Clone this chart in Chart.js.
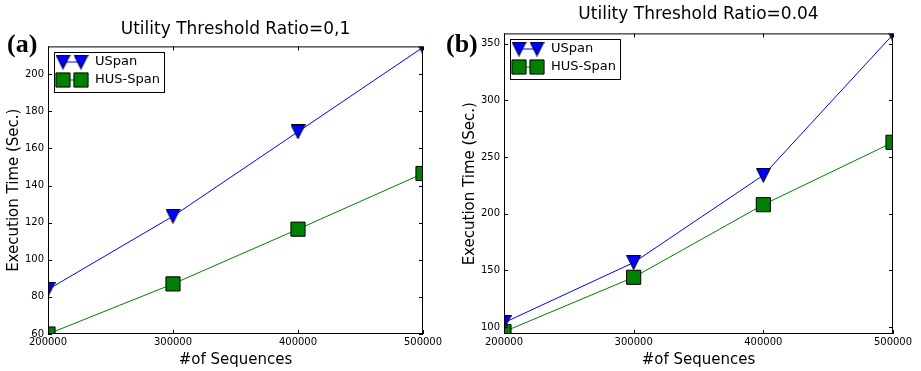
<!DOCTYPE html>
<html>
<head>
<meta charset="utf-8">
<script src="https://cdn.jsdelivr.net/npm/chart.js@4.4.1/dist/chart.umd.min.js"></script>
<style>
  body { margin: 0; background: #fff; }
  #wrap { position: relative; width: 921px; height: 371px; }
  canvas { position: absolute; top: 0; }
  #chartA { left: 0; }
  #chartB { left: 445px; }
</style>
</head>
<body>
<div id="wrap">
  <canvas id="chartA" width="445" height="371"></canvas>
  <canvas id="chartB" width="476" height="371"></canvas>
</div>
<script>
/* ======= Data ======= */
const sequences = [200000, 300000, 400000, 500000];

// (a) Utility Threshold Ratio=0,1
const uspanA = [84, 123.5, 169, 214.5];
const husSpanA = [60, 87, 116.5, 146.5];
const yLimitsA = [60, 215];
const yStepA = 20;

// (b) Utility Threshold Ratio=0.04
const uspanB = [104, 157, 234, 358];
const husSpanB = [96, 144, 208, 263];
const yLimitsB = [94, 359];
const yStepB = 50;

const xStep = 100000;

const FONT = '"DejaVu Sans", sans-serif';

function points(values) {
  return sequences.map((x, i) => ({ x, y: values[i] }));
}

/* ======= Downward triangle marker (same box as the square) ======= */
function triangleDown(size, fill) {
  const c = document.createElement('canvas');
  c.width = size + 1;
  c.height = size + 1;
  const g = c.getContext('2d');
  g.beginPath();
  g.moveTo(0.5, 0.5);
  g.lineTo(size + 0.5, 0.5);
  g.lineTo(size / 2 + 0.5, size + 0.5);
  g.closePath();
  g.fillStyle = fill;
  g.fill();
  g.strokeStyle = '#000';
  g.lineWidth = 1;
  g.stroke();
  return c;
}
const markerUspan = triangleDown(14, '#0000ff');

/* ======= Frame, inward ticks, legend and panel letter ======= */
const framePlugin = {
  id: 'frame',
  afterDatasetsDraw(chart, args, opts) {
    const { ctx, chartArea: a, scales } = chart;
    ctx.save();
    ctx.strokeStyle = '#000';
    ctx.lineWidth = 1;
    ctx.strokeRect(a.left + 0.5, a.top + 0.5, a.right - a.left - 1, a.bottom - a.top - 1);

    // inward ticks on all four sides
    ctx.beginPath();
    scales.x.ticks.forEach(t => {
      const px = Math.round(scales.x.getPixelForValue(t.value)) + 0.5;
      ctx.moveTo(px, a.bottom); ctx.lineTo(px, a.bottom - 4);
      ctx.moveTo(px, a.top); ctx.lineTo(px, a.top + 4);
    });
    scales.y.ticks.forEach(t => {
      const py = Math.round(scales.y.getPixelForValue(t.value)) + 0.5;
      ctx.moveTo(a.left, py); ctx.lineTo(a.left + 4, py);
      ctx.moveTo(a.right, py); ctx.lineTo(a.right - 4, py);
    });
    ctx.stroke();

    // legend
    ctx.font = '13px ' + FONT;
    const textW = Math.max(...chart.data.datasets.map(d => ctx.measureText(d.label).width));
    const bx = Math.round(a.left) + 6, by = Math.round(a.top) + 6;
    const bw = Math.round(41 + textW + 4), bh = 40;
    ctx.fillStyle = '#fff';
    ctx.fillRect(bx, by, bw, bh);
    ctx.strokeStyle = '#000';
    ctx.strokeRect(bx + 0.5, by + 0.5, bw, bh);

    chart.data.datasets.forEach((d, i) => {
      const y = by + 10 + i * 18;
      ctx.strokeStyle = d.borderColor;
      ctx.lineWidth = 1;
      ctx.beginPath();
      ctx.moveTo(bx + 9, y); ctx.lineTo(bx + 27, y);
      ctx.stroke();

      ctx.fillStyle = d.pointBackgroundColor;
      ctx.strokeStyle = d.pointBorderColor;
      ctx.lineWidth = d.pointBorderWidth;
      const style = { pointStyle: d.pointStyle, rotation: 0, radius: d.pointRadius, borderWidth: d.pointBorderWidth };
      Chart.helpers.drawPoint(ctx, style, bx + 9, y);
      Chart.helpers.drawPoint(ctx, style, bx + 27, y);

      ctx.fillStyle = '#000';
      ctx.textBaseline = 'middle';
      ctx.textAlign = 'left';
      ctx.fillText(d.label, bx + 41, y);
    });

    // panel letter
    ctx.font = 'bold 26px "Liberation Serif", serif';
    ctx.fillStyle = '#000';
    ctx.textBaseline = 'middle';
    ctx.fillText(opts.letter, opts.letterX, 45);
    ctx.restore();
  }
};

/* ======= Charts ======= */
function createChart(id, cfg) {
  return new Chart(document.getElementById(id), {
    type: 'line',
    data: {
      datasets: [
        {
          label: 'USpan',
          data: points(cfg.uspan),
          borderColor: '#0000ff',
          backgroundColor: '#0000ff',
          pointBackgroundColor: '#0000ff',
          pointBorderColor: '#000',
          pointBorderWidth: 1,
          pointStyle: markerUspan,
          pointRadius: 8,
          borderWidth: 1,
          clip: 0
        },
        {
          label: 'HUS-Span',
          data: points(cfg.husSpan),
          borderColor: '#008000',
          backgroundColor: '#008000',
          pointBackgroundColor: '#008000',
          pointBorderColor: '#000',
          pointBorderWidth: 1,
          pointStyle: 'rect',
          pointRadius: 10,
          borderWidth: 1,
          clip: 0
        }
      ]
    },
    options: {
      responsive: false,
      animation: false,
      events: [],
      layout: { padding: { left: 0, right: cfg.padRight, top: 0, bottom: 0 } },
      plugins: {
        legend: { display: false },
        tooltip: { enabled: false },
        title: {
          display: true,
          text: cfg.title,
          fullSize: false,
          color: '#000',
          font: { family: FONT, size: 17, weight: 'normal', lineHeight: 1.2 },
          padding: cfg.titlePad
        },
        frame: { letter: cfg.letter, letterX: cfg.letterX }
      },
      scales: {
        x: {
          type: 'linear',
          min: sequences[0],
          max: sequences[sequences.length - 1],
          afterFit: s => { s.height = 37; },
          grid: { display: false, drawTicks: false },
          border: { display: false },
          ticks: {
            stepSize: xStep,
            padding: 2,
            maxRotation: 0,
            autoSkip: false,
            color: '#000',
            font: { family: FONT, size: 10 },
            callback: v => String(v)
          },
          title: {
            display: true,
            text: '#of Sequences',
            color: '#000',
            font: { family: FONT, size: 15, lineHeight: 1.2 },
            padding: { top: 0, bottom: 2 }
          }
        },
        y: {
          min: cfg.yLimits[0],
          max: cfg.yLimits[1],
          afterFit: s => { s.width = cfg.yWidth; },
          grid: { display: false, drawTicks: false },
          border: { display: false },
          ticks: {
            stepSize: cfg.yStep,
            includeBounds: false,
            padding: 4,
            color: '#000',
            font: { family: FONT, size: 10 }
          },
          title: {
            display: true,
            text: 'Execution Time (Sec.)',
            color: '#000',
            font: { family: FONT, size: 15, lineHeight: 1.2 },
            padding: { top: cfg.yTitlePad, bottom: 0 }
          }
        }
      }
    },
    plugins: [framePlugin]
  });
}

createChart('chartA', {
  uspan: uspanA, husSpan: husSpanA, yLimits: yLimitsA, yStep: yStepA,
  title: 'Utility Threshold Ratio=0,1', titlePad: { top: 19, bottom: 7 },
  padRight: 22, yWidth: 48, yTitlePad: 5, letter: '(a)', letterX: 7
});

createChart('chartB', {
  uspan: uspanB, husSpan: husSpanB, yLimits: yLimitsB, yStep: yStepB,
  title: 'Utility Threshold Ratio=0.04', titlePad: { top: 4, bottom: 9 },
  padRight: 28, yWidth: 59, yTitlePad: 16, letter: '(b)', letterX: 1
});
</script>
</body>
</html>
